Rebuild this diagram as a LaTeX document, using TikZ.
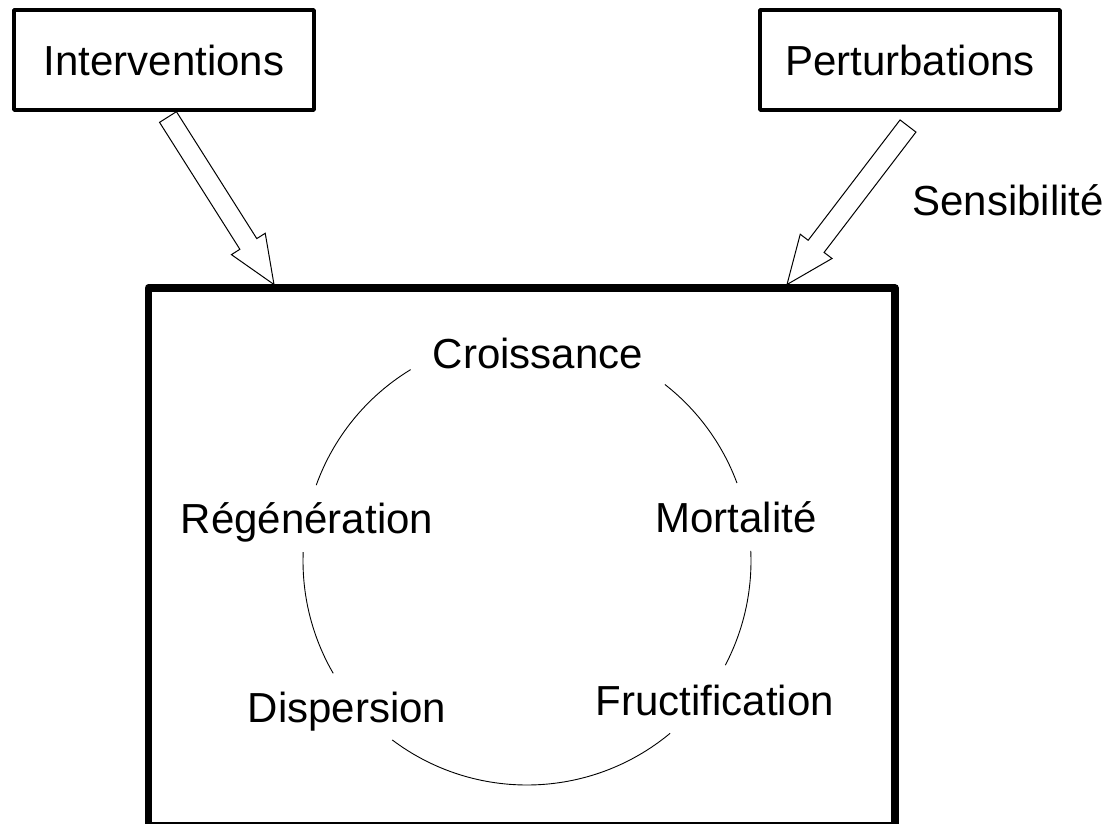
\documentclass[tikz,border=0pt]{standalone}
\usepackage{fontspec}
\setmainfont{Liberation Sans}
\usetikzlibrary{calc}

% hollow block arrow from #1 (tail) to #2 (tip)
\newcommand\blockarrow[2]{%
  \coordinate (ba-h) at ($(#2)!48pt!(#1)$);
  \draw[hollowarrow]
    ($(#1)!10pt!90:(#2)$) -- ($(ba-h)!10pt!90:(#2)$) -- ($(ba-h)!20pt!90:(#2)$)
    -- (#2)
    -- ($(ba-h)!20pt!-90:(#2)$) -- ($(ba-h)!10pt!-90:(#2)$) -- ($(#1)!10pt!-90:(#2)$)
    -- cycle;}

\tikzset{
  lbl/.style={font=\fontsize{42}{50}\selectfont, inner sep=0pt},
  factor/.style={lbl, draw, line width=3.5pt, line join=round,
                 minimum width=300pt, minimum height=100pt},
  system/.style={draw, line width=7.5pt, line join=round,
                 minimum width=746.5pt, minimum height=538pt, inner sep=0pt},
  hollowarrow/.style={draw, fill=white, line width=1pt, line join=miter},
  cyclearc/.style={line width=0.9pt},
}

\begin{document}
\begin{tikzpicture}[x=1pt, y=-1pt]
  \useasboundingbox (0,0) rectangle (1109,823);
  \clip (0,0) rectangle (1109,823);

  % outside factors
  \node[factor] (int) at (164,60) {Interventions};
  \node[factor] (per) at (910,60) {Perturbations};
  \node[lbl, anchor=base] (sen) at (1008,215) {Sensibilité};

  % system boundary (its lower edge runs off the page)
  \node[system] (sys) at (521.75,557) {};

  % influences on the system
  \coordinate (intTail) at (168,117);
  \coordinate (intTip)  at (274,284.5);
  \coordinate (perTail) at (908,126);
  \coordinate (perTip)  at (787,284.5);
  \blockarrow{intTail}{intTip}
  \blockarrow{perTail}{perTip}

  % life-cycle stages
  \node[lbl, anchor=base] (cro) at (538,368) {Croissance};
  \node[lbl, anchor=base] (mor) at (736,532) {Mortalité};
  \node[lbl, anchor=base] (fru) at (715,715) {Fructification};
  \node[lbl, anchor=base] (dis) at (347,722) {Dispersion};
  \node[lbl, anchor=base] (reg) at (307,533) {Régénération};

  % the cycle, broken around each stage
  \coordinate (cyc) at (527,561);
  \foreach \a/\b in {-52/-20.4, -2.6/27.7, 50.3/127, 149.9/182.3, 199.8/238.7} {
    \draw[cyclearc] (cyc) ++(\a:224) arc[start angle=\a, end angle=\b, radius=224];
  }
\end{tikzpicture}
\end{document}
